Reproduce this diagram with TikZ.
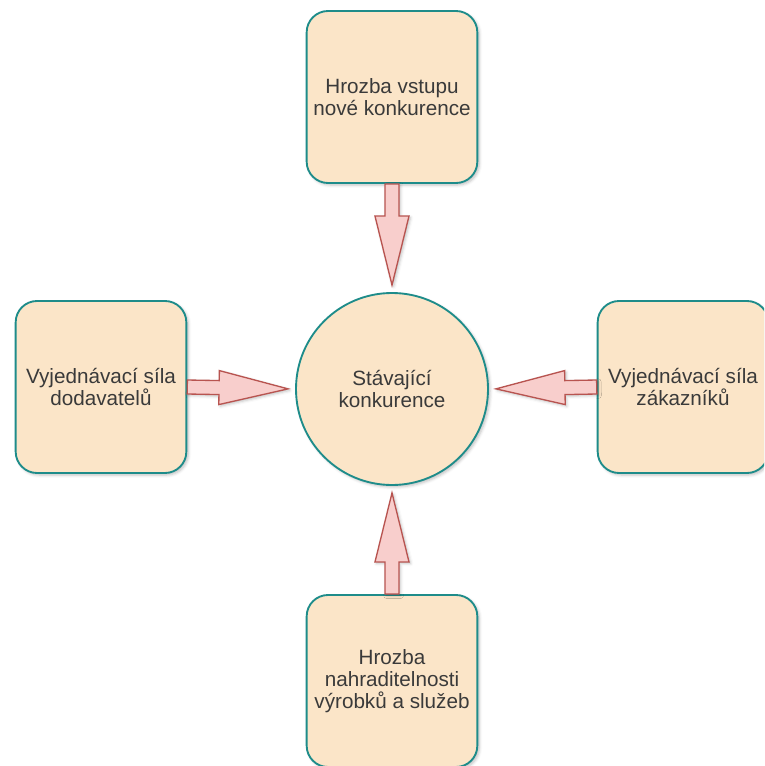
\documentclass[tikz,border=0pt]{standalone}
\usepackage{fontspec}
\setmainfont{Liberation Sans}
\usetikzlibrary{positioning,calc,shadows.blur}

\definecolor{boxfill}{HTML}{FBE5C8}
\definecolor{boxline}{HTML}{1E8C8A}
\definecolor{arrfill}{HTML}{F8CECC}
\definecolor{arrline}{HTML}{B85450}
\definecolor{txtgray}{HTML}{3A3A3A}

\tikzset{
  forcebox/.style={draw=boxline,fill=boxfill,line width=1.4pt,rounded corners=16pt,
    minimum width=128pt,minimum height=129pt,align=center,text=txtgray,
    font=\fontsize{15.5}{16.5}\selectfont,
    blur shadow={shadow xshift=1.5pt,shadow yshift=-1.5pt,shadow blur steps=4,shadow opacity=25}},
  rivalcircle/.style={circle,draw=boxline,fill=boxfill,line width=1.4pt,minimum size=144pt,
    align=center,text=txtgray,font=\fontsize{15.5}{16.5}\selectfont,
    blur shadow={shadow xshift=1.5pt,shadow yshift=-1.5pt,shadow blur steps=4,shadow opacity=25}},
  pusharrow/.style={draw=arrline,fill=arrfill,line width=1pt,line join=miter,
    blur shadow={shadow xshift=1.2pt,shadow yshift=-1.2pt,shadow blur steps=3,shadow opacity=25}}
}

% block arrow: #1 = start, #2 = tip
\newcommand{\pusharr}[2]{%
  \coordinate (hb) at ($(#2)!51.75pt!(#1)$);
  \draw[pusharrow] ($(#1)!5.25pt!90:(#2)$) -- ($(hb)!5.25pt!90:(#2)$)
    -- ($(hb)!12.75pt!90:(#2)$) -- (#2) -- ($(hb)!12.75pt!-90:(#2)$)
    -- ($(hb)!5.25pt!-90:(#2)$) -- ($(#1)!5.25pt!-90:(#2)$) -- cycle;
}

\begin{document}
\begin{tikzpicture}[x=0.75pt,y=-0.75pt]
 \path[use as bounding box,clip] (0,0) rectangle (764,766);

 \node[forcebox] (entry) at (392,97) {Hrozba vstupu\\nové konkurence};
 \node[forcebox] (suppliers) at (101,387) {Vyjednávací síla\\dodavatelů};
 \node[forcebox] (buyers) at (683,387) {Vyjednávací síla\\zákazníků};
 \node[forcebox] (substitutes) at (392,681) {Hrozba\\nahraditelnosti\\výrobků a služeb};
 \node[rivalcircle] (rivalry) at (392,389) {Stávající\\konkurence};

 \coordinate (tn) at ($(rivalry.north)!5.25pt!(entry.south)$);
 \coordinate (tw) at ($(rivalry.west)!5.25pt!(suppliers.east)$);
 \coordinate (te) at ($(rivalry.east)!5.25pt!(buyers.west)$);
 \coordinate (ts) at ($(rivalry.south)!5.25pt!(substitutes.north)$);

 \pusharr{entry.south}{tn}
 \pusharr{suppliers.east}{tw}
 \pusharr{buyers.west}{te}
 \pusharr{substitutes.north}{ts}
\end{tikzpicture}
\end{document}
